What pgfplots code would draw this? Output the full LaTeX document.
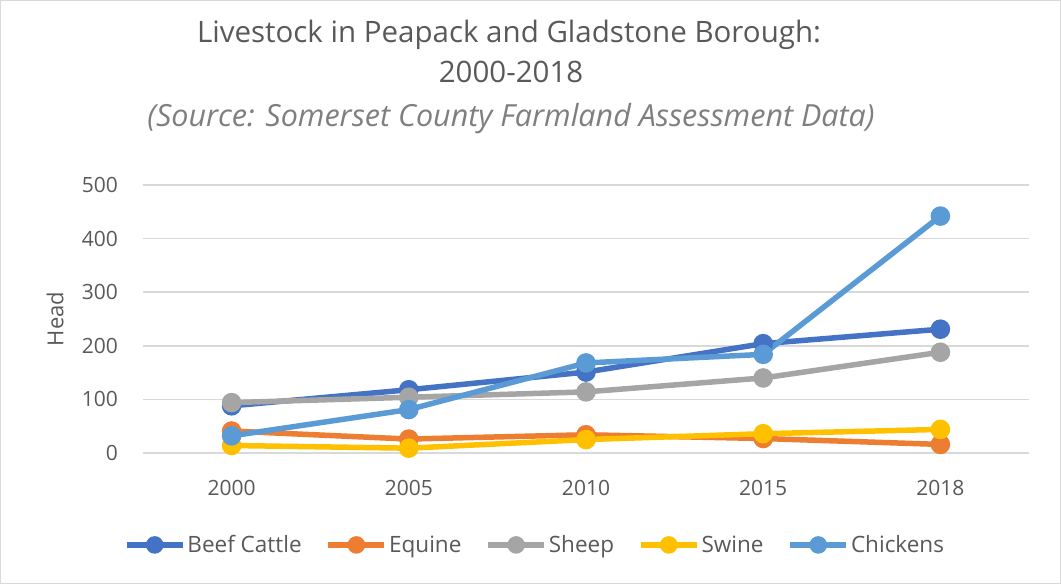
\documentclass[border=0pt]{standalone}
\usepackage{fontspec}
\setmainfont{Open Sans}
\usepackage{pgfplots}
\pgfplotsset{compat=1.18}
\definecolor{beef}{HTML}{4472C4}
\definecolor{equine}{HTML}{ED7D31}
\definecolor{sheep}{HTML}{A5A5A5}
\definecolor{swine}{HTML}{FFC000}
\definecolor{chick}{HTML}{5B9BD5}
\definecolor{txt}{HTML}{595959}
\definecolor{sub}{HTML}{7F7F7F}
\definecolor{gridc}{HTML}{D9D9D9}
\begin{document}
\begin{tikzpicture}
\path[use as bounding box] (0,0) rectangle (1061bp,584bp);
\draw[gridc, line width=1bp] (0.5bp,0.5bp) rectangle (1060.5bp,583.5bp);
\node[anchor=base, text=txt, font=\fontsize{29.5bp}{33bp}\selectfont] at (509bp,541bp) {Livestock in Peapack and Gladstone Borough:};
\node[anchor=base, text=txt, font=\fontsize{29.5bp}{33bp}\selectfont] at (511bp,501bp) {2000-2018};
\node[anchor=base, text=sub, font=\fontsize{30.5bp}{34bp}\itshape] at (511bp,457bp) {(Source: Somerset County Farmland Assessment Data)};
\begin{axis}[
  at={(143bp,131bp)}, anchor=south west,
  scale only axis, width=886bp, height=268bp,
  xmin=-0.5, xmax=4.5, ymin=0, ymax=500,
  xtick={0,1,2,3,4}, xticklabels={2000,2005,2010,2015,2018},
  ytick={0,100,200,300,400,500},
  ymajorgrids, grid style={gridc, line width=1.6bp},
  axis line style={draw=none}, major tick style={draw=none},
  /pgf/number format/assume math mode=true,
  ticklabel style={font=\fontsize{21bp}{24bp}\selectfont, text=txt},
  yticklabel style={inner sep=0pt, xshift=-25bp},
  xticklabel style={inner sep=0pt, yshift=-27bp},
  ylabel={Head},
  ylabel style={at={(axis description cs:-0.0993,0.5)}, anchor=center, rotate=0, font=\fontsize{22bp}{26bp}\selectfont, text=txt},
  every axis plot post/.append style={line width=5.5bp, mark=*, mark size=7bp},
  legend columns=5,
  legend style={at={(axis description cs:0.4424,-0.343)}, anchor=center, draw=none, fill=none,
    font=\fontsize{22.5bp}{26bp}\selectfont, text=txt,
    /tikz/every even column/.append style={column sep=22bp},
    nodes={inner sep=2bp}},
  legend image code/.code={\draw[mark repeat=2,mark phase=2, mark size=6bp] plot coordinates {(0bp,0bp)(28bp,0bp)(56bp,0bp)};},
]
\addplot[beef, mark options={fill=beef}] coordinates {(0,88) (1,118) (2,151) (3,204) (4,231)};
\addlegendentry{Beef Cattle}
\addplot[equine, mark options={fill=equine}] coordinates {(0,41) (1,26) (2,34) (3,27) (4,16)};
\addlegendentry{Equine}
\addplot[sheep, mark options={fill=sheep}] coordinates {(0,94) (1,104) (2,114) (3,140) (4,188)};
\addlegendentry{Sheep}
\addplot[swine, mark options={fill=swine}] coordinates {(0,14) (1,9) (2,25) (3,36) (4,44)};
\addlegendentry{Swine}
\addplot[chick, mark options={fill=chick}] coordinates {(0,32) (1,81) (2,168) (3,184) (4,442)};
\addlegendentry{Chickens}
\end{axis}
\end{tikzpicture}
\end{document}
